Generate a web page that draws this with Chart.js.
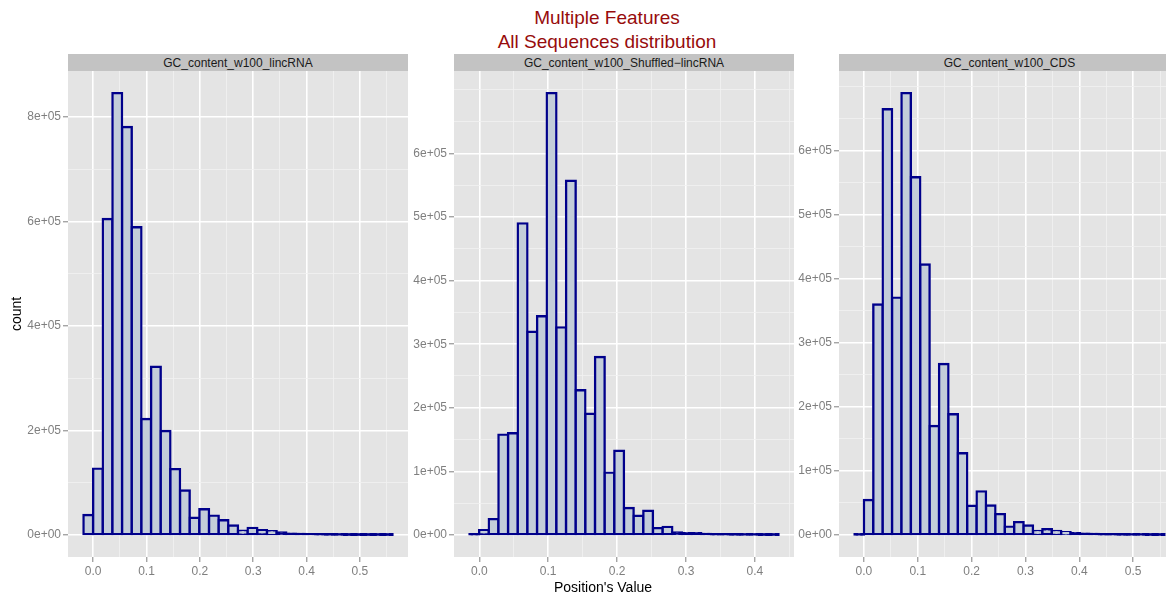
<!DOCTYPE html>
<html>
<head>
<meta charset="utf-8">
<title>Multiple Features - All Sequences distribution</title>
<script src="https://cdn.jsdelivr.net/npm/chart.js@4.4.1/dist/chart.umd.min.js"></script>
<style>
  html, body { margin: 0; padding: 0; background: #fff; overflow: hidden; }
  #wrap { position: relative; width: 1166px; height: 594px; overflow: hidden;
          font-family: 'Liberation Sans', Arial, sans-serif; }
  .title { position: absolute; left: 407px; top: 6px; width: 400px; text-align: center;
           color: #970c0c; font-size: 19px; line-height: 24px; }
  .strip { position: absolute; top: 54px; height: 17px; background: #c3c3c3; color: #1a1a1a;
           font-size: 12px; line-height: 19px; text-align: center; white-space: nowrap; }
  .xlab { position: absolute; left: 503px; top: 579px; width: 200px; text-align: center;
          font-size: 14px; line-height: 16px; color: #000; }
  .ylab { position: absolute; left: -34px; top: 306px; width: 100px; text-align: center;
          font-size: 14px; line-height: 16px; color: #000; transform: rotate(-90deg); }
  canvas { position: absolute; top: 71px; }
</style>
</head>
<body>
<div id="wrap">
  <div class="title">Multiple Features<br>All Sequences distribution</div>
  <div class="strip" style="left:68px;width:340px">GC_content_w100_lincRNA</div>
  <div class="strip" style="left:454px;width:340px">GC_content_w100_Shuffled&minus;lincRNA</div>
  <div class="strip" style="left:839px;width:341px">GC_content_w100_CDS</div>
  <canvas id="c1" width="400" height="523" style="left:8px"></canvas>
  <canvas id="c2" width="400" height="523" style="left:394px"></canvas>
  <canvas id="c3" width="401" height="523" style="left:779px"></canvas>
  <div class="ylab">count</div>
  <div class="xlab">Position's Value</div>
</div>
<script>
// --- Histogram data (one count per bin) ---
const lincCounts = [38000, 127000, 605000, 846000, 781000, 589000, 222000, 322000,
    199000, 126000, 85000, 33000, 49000, 37000, 28000, 18000, 8000, 13500, 9000, 7000,
    4500, 2500, 2000, 1500, 1000, 800, 500, 400, 300, 300, 200, 200];
const shuffledCounts = [1000, 7400, 24900, 157700, 159800, 490000, 319600, 343900,
    695000, 326500, 557000, 227500, 190500, 279900, 97900, 132300, 42300, 30200, 38100,
    10600, 12700, 3700, 2600, 2600, 1600, 1000, 800, 600, 500, 400, 300, 300];
const cdsCounts = [500, 54500, 360000, 665000, 370800, 690300, 558700, 422500, 170200,
    267000, 188500, 127700, 45500, 68000, 46000, 32500, 13000, 20000, 14700, 6300, 8900,
    6300, 4200, 2600, 2000, 1500, 1000, 800, 600, 500, 400, 300, 300];

// left edge of the first bin and bin width, per panel
const binStarts = [-0.0181, -0.0143, -0.0174];
const binWidths = [0.0181, 0.01402, 0.01744];

// --- Axis breaks ---
const xMajorWide = [0, 0.1, 0.2, 0.3, 0.4, 0.5];
const xMinorWide = [0.05, 0.15, 0.25, 0.35, 0.45, 0.55];
const xMajorNarrow = [0, 0.1, 0.2, 0.3, 0.4];
const xMinorNarrow = [0.05, 0.15, 0.25, 0.35, 0.45];
const yMajorLinc = [0, 200000, 400000, 600000, 800000];
const yMinorLinc = [100000, 300000, 500000, 700000];
const yMajorOther = [0, 100000, 200000, 300000, 400000, 500000, 600000];
const yMinorOther = [50000, 150000, 250000, 350000, 450000, 550000, 650000, 700000];

// --- Styling ---
const BAR_LINE = '#00008b';
const BAR_FILL = '#c3cdd9';
const PANEL_BG = '#e4e4e4';
const TICK_GREY = '#7f7f7f';
const AXIS_W = 60;   // room for the y tick labels
const AXIS_H = 37;   // room for the x tick labels

Chart.defaults.font.family = "'Liberation Sans', Arial, sans-serif";

const isIn = (list, v) => list.some(m => Math.abs(m - v) < 1e-9);

function sci(v) {
    if (v === 0) return '0e+00';
    const e = Math.floor(Math.log10(Math.abs(v)) + 1e-9);
    const m = Math.round(v / Math.pow(10, e));
    return m + 'e+' + String(e).padStart(2, '0');
}

// grey plotting panel behind the grid
const panelBg = {
    id: 'panelBg',
    beforeDraw(chart) {
        const { ctx, chartArea: a } = chart;
        ctx.save();
        ctx.fillStyle = PANEL_BG;
        ctx.fillRect(a.left, a.top, a.right - a.left, a.bottom - a.top);
        ctx.restore();
    }
};

function axisGrid(major) {
    const maj = c => c.tick && isIn(major, c.tick.value);
    return {
        offset: false,
        color: c => maj(c) ? '#ffffff' : '#f1f1f1',
        lineWidth: c => maj(c) ? 1.6 : 0.8,
        tickColor: c => maj(c) ? TICK_GREY : 'rgba(0,0,0,0)',
        tickWidth: 1,
        tickLength: 5,
        drawTicks: true
    };
}

function makeHistogram(id, counts, start, width, xMajor, xMinor, yMajor, yMinor) {
    const n = counts.length;
    const span = n * width;
    const centers = counts.map((_, i) => start + width * (i + 0.5));
    const top = Math.max(...counts);

    return new Chart(document.getElementById(id).getContext('2d'), {
        type: 'bar',
        data: {
            datasets: [{
                data: centers.map((x, i) => ({ x: x, y: counts[i] })),
                borderColor: BAR_LINE,
                // very short bins collapse to a solid outline along the base
                backgroundColor: c => {
                    if (!c.raw) return BAR_FILL;
                    const y = c.chart.scales.y;
                    const h = Math.abs(y.getPixelForValue(c.raw.y) - y.getPixelForValue(0));
                    return h < 2.5 ? BAR_LINE : BAR_FILL;
                },
                // outline centred on the bin edges, shared by neighbouring bins
                borderWidth: 2.4,
                borderSkipped: false,
                inflateAmount: 1.2,
                barPercentage: 1,
                categoryPercentage: 1
            }]
        },
        options: {
            responsive: false,
            animation: false,
            events: [],
            layout: { padding: 0 },
            plugins: { legend: { display: false }, tooltip: { enabled: false }, title: { display: false } },
            scales: {
                x: {
                    type: 'linear',
                    bounds: 'data',
                    offset: false,
                    min: start - 0.05 * span,
                    max: start + 1.05 * span,
                    border: { display: false },
                    grid: axisGrid(xMajor),
                    afterBuildTicks: s => { s.ticks = xMajor.concat(xMinor).sort((a, b) => a - b).map(v => ({ value: v })); },
                    afterFit: s => { s.height = AXIS_H; s.paddingLeft = 0; s.paddingRight = 0; },
                    ticks: {
                        autoSkip: false, maxRotation: 0, minRotation: 0,
                        color: TICK_GREY, font: { size: 12 }, padding: 2,
                        callback: v => isIn(xMajor, v) ? v.toFixed(1) : ''
                    }
                },
                y: {
                    type: 'linear',
                    bounds: 'data',
                    min: -0.05 * top,
                    max: 1.05 * top,
                    border: { display: false },
                    grid: axisGrid(yMajor),
                    afterBuildTicks: s => { s.ticks = yMajor.concat(yMinor).sort((a, b) => a - b).map(v => ({ value: v })); },
                    afterFit: s => { s.width = AXIS_W; s.paddingTop = 0; s.paddingBottom = 0; },
                    ticks: {
                        autoSkip: false,
                        color: TICK_GREY, font: { size: 12 }, padding: 2,
                        callback: v => isIn(yMajor, v) ? sci(v) : ''
                    }
                }
            }
        },
        plugins: [panelBg]
    });
}

// --- Panels ---
makeHistogram('c1', lincCounts, binStarts[0], binWidths[0], xMajorWide, xMinorWide, yMajorLinc, yMinorLinc);
makeHistogram('c2', shuffledCounts, binStarts[1], binWidths[1], xMajorNarrow, xMinorNarrow, yMajorOther, yMinorOther);
makeHistogram('c3', cdsCounts, binStarts[2], binWidths[2], xMajorWide, xMinorWide, yMajorOther, yMinorOther);
</script>
</body>
</html>
